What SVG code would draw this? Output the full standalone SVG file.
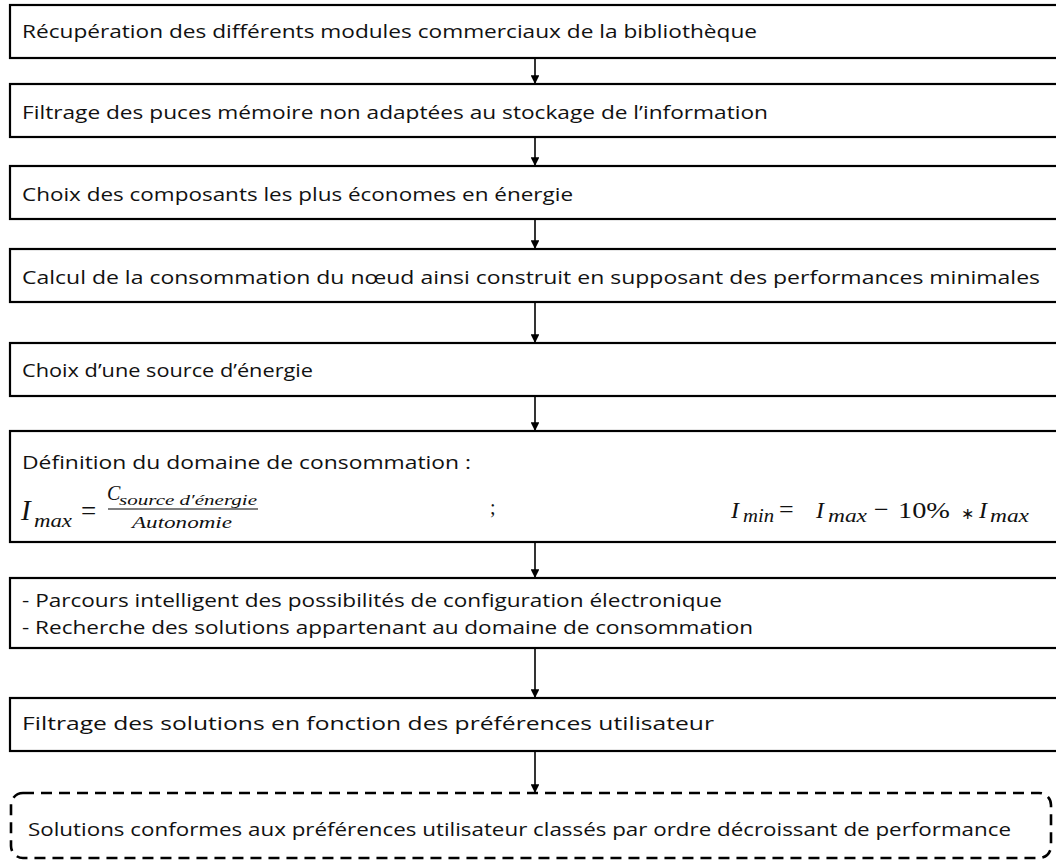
<svg xmlns="http://www.w3.org/2000/svg" width="1056" height="861" viewBox="0 0 1056 861">
<style>
.box{fill:#fff;stroke:#000;stroke-width:2.2}
.dash{fill:#fff;stroke:#000;stroke-width:2.6;stroke-dasharray:11 7}
.t{font-family:"Open Sans","Liberation Sans",Arial,sans-serif;font-size:18px;fill:#111}
.m{font-family:"Liberation Serif","Times New Roman",serif;font-style:italic;fill:#111}
.mr{font-family:"Liberation Serif","Times New Roman",serif;fill:#111}
.c{stroke:#000;stroke-width:1.6;fill:none}
</style>
<defs>
<marker id="ah" viewBox="0 0 10 10" refX="10" refY="5" markerWidth="5.5" markerHeight="5.5" orient="auto" markerUnits="strokeWidth">
<path d="M0,0 L10,5 L0,10 Z" fill="#000"/>
</marker>
</defs>
<rect width="1056" height="861" fill="#fff"/>
<g id="connectors">
<line class="c" x1="535" y1="58" x2="535" y2="84" marker-end="url(#ah)"/>
<line class="c" x1="535" y1="137" x2="535" y2="166" marker-end="url(#ah)"/>
<line class="c" x1="535" y1="219" x2="535" y2="249" marker-end="url(#ah)"/>
<line class="c" x1="535" y1="302" x2="535" y2="343" marker-end="url(#ah)"/>
<line class="c" x1="535" y1="396" x2="535" y2="431" marker-end="url(#ah)"/>
<line class="c" x1="535" y1="542" x2="535" y2="578" marker-end="url(#ah)"/>
<line class="c" x1="535" y1="648" x2="535" y2="698" marker-end="url(#ah)"/>
<line class="c" x1="535" y1="751" x2="535" y2="793" marker-end="url(#ah)"/>
</g>
<g id="n1"><rect class="box" x="10" y="5" width="1060" height="53"/>
<text class="t" x="22" y="38" textLength="735" lengthAdjust="spacingAndGlyphs">Récupération des différents modules commerciaux de la bibliothèque</text></g>
<g id="n2"><rect class="box" x="10" y="84" width="1060" height="53"/>
<text class="t" x="22" y="119" textLength="746" lengthAdjust="spacingAndGlyphs">Filtrage des puces mémoire non adaptées au stockage de l’information</text></g>
<g id="n3"><rect class="box" x="10" y="166" width="1060" height="53"/>
<text class="t" x="22" y="201" textLength="551" lengthAdjust="spacingAndGlyphs">Choix des composants les plus économes en énergie</text></g>
<g id="n4"><rect class="box" x="10" y="249" width="1060" height="53"/>
<text class="t" x="22" y="284" textLength="1018" lengthAdjust="spacingAndGlyphs">Calcul de la consommation du nœud ainsi construit en supposant des performances minimales</text></g>
<g id="n5"><rect class="box" x="10" y="343" width="1060" height="53"/>
<text class="t" x="22" y="377" textLength="291" lengthAdjust="spacingAndGlyphs">Choix d’une source d’énergie</text></g>
<g id="n6"><rect class="box" x="10" y="431" width="1060" height="111"/>
<text class="t" x="22" y="469" textLength="449" lengthAdjust="spacingAndGlyphs">Définition du domaine de consommation  :</text>
<text class="m" x="21" y="520" font-size="29">I</text>
<text class="m" x="34" y="527" font-size="19" textLength="38" lengthAdjust="spacingAndGlyphs">max</text>
<text class="mr" x="81" y="520" font-size="27">=</text>
<text class="m" x="107" y="500" font-size="20">C</text>
<text class="m" x="119" y="505" font-size="15" textLength="138" lengthAdjust="spacingAndGlyphs">source d′énergie</text>
<line x1="108" y1="509" x2="258" y2="509" stroke="#000" stroke-width="1.2"/>
<text class="m" x="132" y="528" font-size="16" textLength="100" lengthAdjust="spacingAndGlyphs">Autonomie</text>
<text class="mr" x="490" y="514" font-size="20">;</text>
<text class="m" x="731" y="518" font-size="24">I</text>
<text class="m" x="743" y="522" font-size="19" textLength="31" lengthAdjust="spacingAndGlyphs">min</text>
<text class="mr" x="779" y="518" font-size="26">=</text>
<text class="m" x="816" y="518" font-size="24">I</text>
<text class="m" x="828" y="522" font-size="19" textLength="39" lengthAdjust="spacingAndGlyphs">max</text>
<text class="mr" x="874" y="518" font-size="26">−</text>
<text class="mr" x="898" y="518" font-size="24" textLength="52" lengthAdjust="spacingAndGlyphs">10%</text>
<text class="mr" x="961" y="519" font-size="16">∗</text>
<text class="m" x="979" y="518" font-size="24">I</text>
<text class="m" x="990" y="522" font-size="19" textLength="39" lengthAdjust="spacingAndGlyphs">max</text></g>
<g id="n7"><rect class="box" x="10" y="578" width="1060" height="70"/>
<text class="t" x="22" y="607" textLength="700" lengthAdjust="spacingAndGlyphs">- Parcours intelligent des possibilités de configuration électronique</text>
<text class="t" x="22" y="634" textLength="731" lengthAdjust="spacingAndGlyphs">- Recherche des solutions appartenant au domaine de consommation</text></g>
<g id="n8"><rect class="box" x="10" y="698" width="1060" height="53"/>
<text class="t" x="22" y="730" textLength="692" lengthAdjust="spacingAndGlyphs">Filtrage des solutions en fonction des préférences utilisateur</text></g>
<g id="n9"><rect class="dash" x="11" y="793" width="1040" height="65" rx="12"/>
<text class="t" x="28" y="836" textLength="983" lengthAdjust="spacingAndGlyphs">Solutions conformes aux préférences utilisateur classés par ordre décroissant de performance</text></g>
</svg>
